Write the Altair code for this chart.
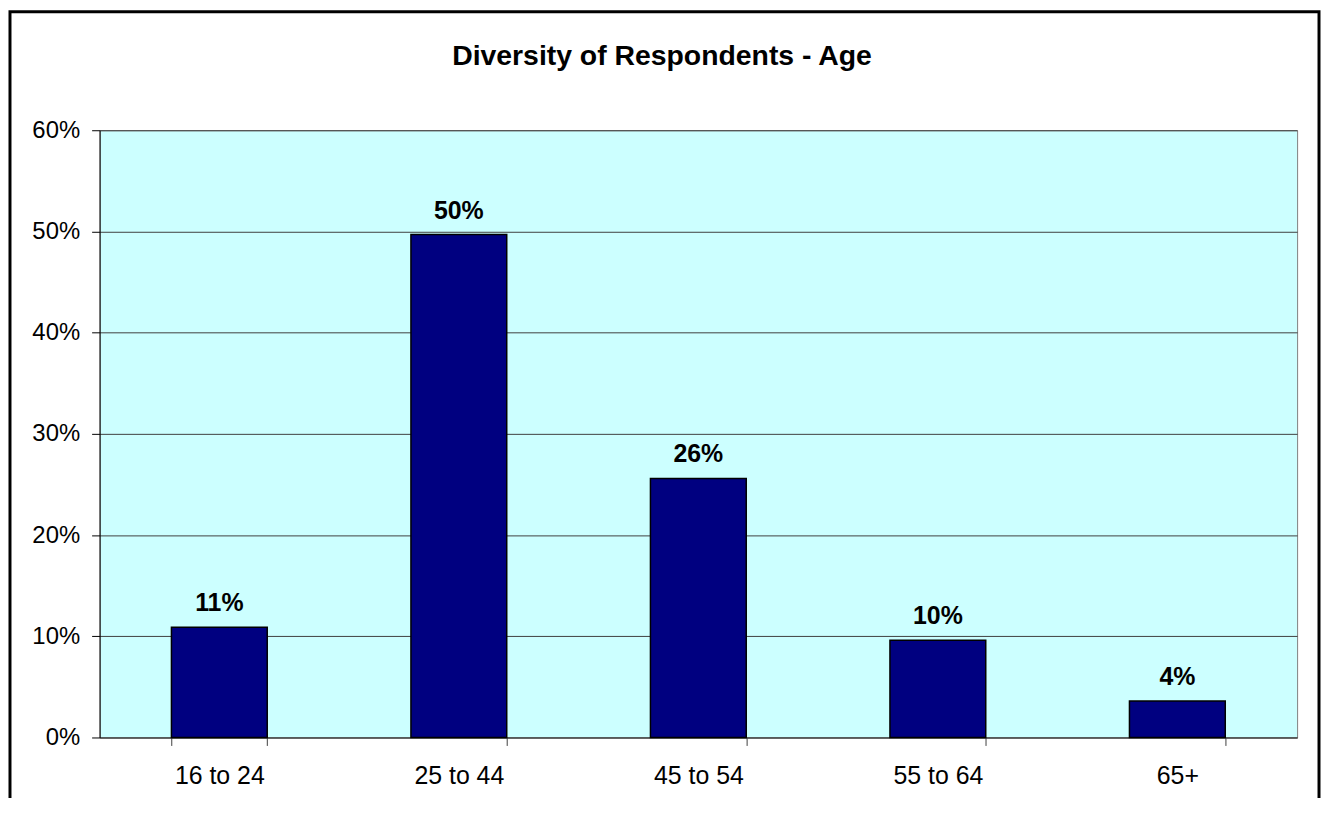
import altair as alt
import pandas as pd

categories = ["16 to 24", "25 to 44", "45 to 54", "55 to 64", "65+"]
shares = [0.109, 0.497, 0.256, 0.096, 0.036]
y_ticks = [0, 0.1, 0.2, 0.3, 0.4, 0.5, 0.6]
title_text = "Diversity of Respondents - Age"

df = pd.DataFrame({"age": categories, "share": shares})

FONT = "Liberation Sans"
PLOT_W, PLOT_H = 1203, 610
PAD_L, PAD_T, PAD_R, PAD_B = 92, 121, 24, 59

x_enc = alt.X(
    "age:N",
    sort=categories,
    scale=alt.Scale(paddingInner=0.6, paddingOuter=0.3),
    axis=alt.Axis(
        title=None, labelAngle=0, tickBand="extent", tickSize=8,
        tickColor="#404040", domainColor="#404040", labelFontSize=25,
        labelFont=FONT, labelColor="black", labelPadding=18, grid=False,
    ),
)
y_enc = alt.Y(
    "share:Q",
    scale=alt.Scale(domain=[0, 0.6], nice=False),
    axis=alt.Axis(
        title=None, values=y_ticks, format=".0%", tickSize=8,
        tickColor="black", domainColor="black", labelFontSize=24,
        labelFont=FONT, labelColor="black", labelPadding=12,
        grid=True, gridColor="#404040", gridWidth=1,
    ),
)

bars = alt.Chart(df).mark_bar(
    color="#000080", stroke="black", strokeWidth=1.5
).encode(x=x_enc, y=y_enc)

labels = alt.Chart(df).mark_text(
    font=FONT, fontSize=25, fontWeight="bold", color="black",
    baseline="alphabetic", dy=-16,
).encode(x=alt.X("age:N", sort=categories), y="share:Q", text=alt.Text("share:Q", format=".0%"))

title = alt.Chart(pd.DataFrame({"t": [title_text]})).mark_text(
    font=FONT, fontSize=28.5, fontWeight="bold", color="black",
    baseline="alphabetic", align="center",
).encode(x=alt.value(565), y=alt.value(-66), text="t:N")

border = alt.Chart(pd.DataFrame({"a": [0]})).mark_rect(
    fill=None, stroke="black", strokeWidth=3
).encode(
    x=alt.value(-PAD_L + 2),
    x2=alt.value(PLOT_W + PAD_R - 2),
    y=alt.value(-PAD_T + 2),
    y2=alt.value(PLOT_H + PAD_B + 40),
)

chart = alt.layer(bars, labels, title, border).properties(
    width=PLOT_W,
    height=PLOT_H,
    autosize=alt.AutoSizeParams(type="none"),
    padding={"left": PAD_L, "top": PAD_T, "right": PAD_R, "bottom": PAD_B},
    background="white",
).configure_view(
    fill="#CCFFFF", stroke="#808080", strokeWidth=1
)

chart.save("out.html", embed_options={"renderer": "svg", "actions": False})
